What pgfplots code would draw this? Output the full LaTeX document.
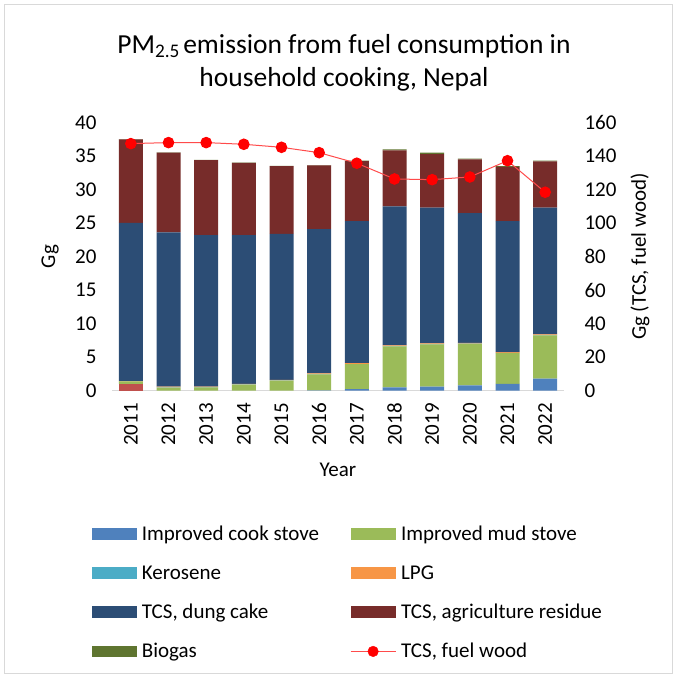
\documentclass[border=0pt]{standalone}
\usepackage{fontspec}
\setmainfont{Carlito}
\usepackage{pgfplots}
\pgfplotsset{compat=1.18}
\usepackage{pgfplotstable}

\definecolor{cred}{HTML}{C0504D}
\definecolor{cics}{HTML}{4F81BD}
\definecolor{cims}{HTML}{9BBB59}
\definecolor{cker}{HTML}{4BACC6}
\definecolor{clpg}{HTML}{F79646}
\definecolor{cdung}{HTML}{2C4D75}
\definecolor{cagri}{HTML}{772C2A}
\definecolor{cbio}{HTML}{5F7530}
\definecolor{cfwl}{HTML}{FF4B4B}
\definecolor{cframe}{HTML}{D9D9D9}

\pgfplotstableread{
x red ics ims ker lpg dung agri bio
0 1.0 0 0.4 0 0.02 23.6 12.45 0.05
1 0 0 0.45 0.03 0.12 23.0 11.9 0.03
2 0 0 0.5 0.03 0.07 22.6 11.2 0.03
3 0 0 0.9 0.03 0.07 22.2 10.78 0.03
4 0 0 1.5 0.03 0.07 21.8 10.1 0.03
5 0 0.05 2.4 0.03 0.12 21.5 9.5 0.03
6 0 0.25 3.7 0.03 0.12 21.2 8.95 0.05
7 0 0.5 6.1 0.03 0.12 20.75 8.35 0.15
8 0 0.6 6.3 0.03 0.12 20.25 8.0 0.2
9 0 0.8 6.2 0.03 0.12 19.35 8.0 0.1
10 0 1.0 4.6 0.03 0.12 19.55 8.1 0.1
11 0 1.8 6.45 0.03 0.12 18.9 6.9 0.1
}\datatable

\pgfplotstableread{
x fw
0 147.4
1 148.0
2 148.0
3 147.0
4 145.2
5 142.0
6 135.7
7 126.3
8 125.9
9 127.5
10 137.2
11 118.4
}\fwtable

\begin{document}
\begin{tikzpicture}
\useasboundingbox (0pt,0pt) rectangle (676pt,677pt);
\draw[color=cframe] (4pt,4pt) rectangle (672pt,673pt);
\node[font=\fontsize{27.5}{33}\selectfont, align=center] at (344pt,614pt) {PM\textsubscript{2.5}\hspace{0.12em}emission from fuel consumption in\\household cooking, Nepal};

\begin{axis}[
  at={(112pt,286.3pt)}, anchor=south west,
  scale only axis, width=452pt, height=268.2pt,
  ybar stacked, bar width=24pt,
  xmin=-0.5, xmax=11.5, ymin=0, ymax=40,
  xtick={0,...,11},
  xticklabels={2011,2012,2013,2014,2015,2016,2017,2018,2019,2020,2021,2022},
  ytick={0,5,...,40},
  axis x line*=bottom, axis y line*=left,
  x axis line style={draw=cframe, line width=1pt},
  y axis line style={draw=none},
  tick style={draw=none},
  /pgf/number format/assume math mode=true,
  ticklabel style={font=\fontsize{21}{21}\selectfont},
  x tick label style={rotate=90, anchor=east},
  xticklabel shift=9pt,
  yticklabel shift=12pt,
  label style={font=\fontsize{21}{21}\selectfont},
  xlabel={Year}, ylabel={Gg},
  xlabel style={at={(axis description cs:0.5,-0.296)}, anchor=center},
  ylabel style={at={(axis description cs:-0.137,0.5)}, anchor=center},
  legend columns=2,
  legend cell align=left,
  legend image code/.code={\fill[#1] (0pt,-5.8pt) rectangle (45pt,5.8pt);},
  legend style={at={(axis description cs:-0.0516,-0.497)}, anchor=north west,
    draw=none, fill=none, font=\fontsize{21}{21}\selectfont,
    nodes={inner sep=0pt},
    row sep=23.3pt,
    /tikz/every odd column/.append style={column sep=5pt},
    /tikz/every even column/.append style={column sep=31pt}},
]
\addplot[fill=cred, draw=none, forget plot] table[x=x,y=red]{\datatable};
\addplot[fill=cics, draw=none] table[x=x,y=ics]{\datatable};
\addlegendentry{Improved cook stove}
\addplot[fill=cims, draw=none] table[x=x,y=ims]{\datatable};
\addlegendentry{Improved mud stove}
\addplot[fill=cker, draw=none] table[x=x,y=ker]{\datatable};
\addlegendentry{Kerosene}
\addplot[fill=clpg, draw=none] table[x=x,y=lpg]{\datatable};
\addlegendentry{LPG}
\addplot[fill=cdung, draw=none] table[x=x,y=dung]{\datatable};
\addlegendentry{TCS, dung cake}
\addplot[fill=cagri, draw=none] table[x=x,y=agri]{\datatable};
\addlegendentry{TCS, agriculture residue}
\addplot[fill=cbio, draw=none] table[x=x,y=bio]{\datatable};
\addlegendentry{Biogas}
\addlegendimage{legend image code/.code={
  \draw[cfwl, line width=1pt] (0pt,0pt) -- (45pt,0pt);
  \fill[red] (22.5pt,0pt) circle (5.3pt);}}
\addlegendentry{TCS, fuel wood}
\end{axis}

\begin{axis}[
  at={(112pt,286.3pt)}, anchor=south west,
  scale only axis, width=452pt, height=268.2pt,
  xmin=-0.5, xmax=11.5, ymin=0, ymax=160,
  ytick={0,20,...,160},
  axis x line=none, axis y line*=right,
  y axis line style={draw=none},
  tick style={draw=none},
  /pgf/number format/assume math mode=true,
  ticklabel style={font=\fontsize{21}{21}\selectfont},
  y tick label style={anchor=west},
  yticklabel shift=17pt,
  label style={font=\fontsize{21}{21}\selectfont},
  ylabel={Gg (TCS, fuel wood)},
  ylabel style={at={(axis description cs:1.168,0.5)}, anchor=center},
]
\addplot[color=cfwl, line width=1pt, mark=*, mark size=5.3pt, mark options={fill=red, draw=red}] table[x=x,y=fw]{\fwtable};
\end{axis}
\end{tikzpicture}
\end{document}
